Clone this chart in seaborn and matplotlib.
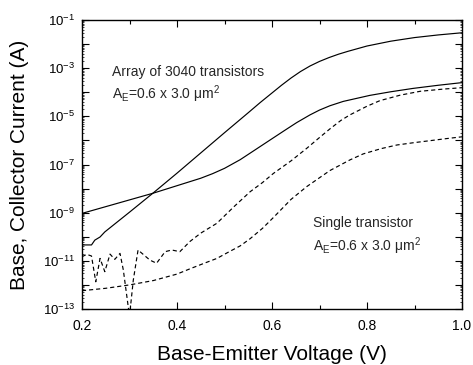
import numpy as np
import pandas as pd
import matplotlib
matplotlib.use("Agg")
import matplotlib.pyplot as plt
import matplotlib.ticker as mticker
import seaborn as sns

# Gummel plot: base & collector current vs base-emitter voltage
# currents stored as log10(I / A)

# array of 3040 transistors - collector current
vbe_ic_array = [0.20, 0.22, 0.227, 0.238, 0.248, 0.30, 0.35, 0.40, 0.45, 0.50, 0.55, 0.575,
                0.60, 0.62, 0.64, 0.66, 0.68, 0.70, 0.72, 0.74, 0.76, 0.80, 0.85, 0.90, 0.95, 1.00]
log_ic_array = [-10.34, -10.34, -10.14, -10.01, -9.80, -8.98, -8.18, -7.36, -6.52, -5.68, -4.85, -4.43,
                -4.03, -3.71, -3.41, -3.14, -2.91, -2.72, -2.56, -2.42, -2.30, -2.08, -1.88, -1.73, -1.62, -1.53]

# array of 3040 transistors - base current
vbe_ib_array = [0.20, 0.25, 0.30, 0.35, 0.40, 0.45, 0.475, 0.50, 0.533, 0.56, 0.60, 0.627, 0.652,
                0.68, 0.70, 0.722, 0.75, 0.806, 0.85, 0.897, 0.95, 1.00]
log_ib_array = [-9.03, -8.75, -8.47, -8.19, -7.88, -7.57, -7.38, -7.16, -6.80, -6.45, -5.93, -5.58, -5.26,
                -4.94, -4.74, -4.56, -4.38, -4.13, -3.98, -3.84, -3.71, -3.60]

# single transistor - collector current (noisy at low bias)
vbe_ic_single = [0.20, 0.21, 0.22, 0.229, 0.238, 0.248, 0.259, 0.269, 0.28, 0.287, 0.30, 0.308,
                 0.318, 0.343, 0.357, 0.375, 0.389, 0.406, 0.427, 0.45, 0.484, 0.52, 0.554, 0.58,
                 0.603, 0.64, 0.673, 0.70, 0.722, 0.745, 0.764, 0.80, 0.827, 0.87, 0.912, 0.96, 1.00]
log_ic_single = [-10.83, -10.73, -10.80, -11.87, -10.90, -11.45, -10.72, -10.94, -10.69, -11.38, -13.3, -11.80,
                 -10.55, -10.97, -11.10, -10.62, -10.55, -10.62, -10.20, -9.85, -9.44, -8.75, -8.13, -7.75,
                 -7.37, -6.85, -6.33, -5.88, -5.52, -5.17, -4.94, -4.58, -4.35, -4.12, -3.96, -3.87, -3.81]

# single transistor - base current
vbe_ib_single = [0.20, 0.25, 0.30, 0.35, 0.40, 0.43, 0.46, 0.484, 0.51, 0.533, 0.554, 0.58, 0.603,
                 0.64, 0.673, 0.70, 0.722, 0.764, 0.792, 0.83, 0.863, 0.90, 0.933, 0.965, 1.00]
log_ib_single = [-12.24, -12.14, -12.00, -11.82, -11.55, -11.31, -11.08, -10.90, -10.62, -10.38, -10.08, -9.65, -9.20,
                 -8.45, -7.92, -7.55, -7.25, -6.81, -6.56, -6.34, -6.19, -6.09, -6.01, -5.93, -5.85]

x_ticks = [0.2, 0.4, 0.6, 0.8, 1.0]

sns.set_theme(style="ticks")
plt.rcParams['font.family'] = ['Liberation Sans', 'DejaVu Sans']
plt.rcParams['mathtext.fontset'] = 'custom'
plt.rcParams['mathtext.rm'] = 'Liberation Sans'
plt.rcParams['mathtext.it'] = 'Liberation Sans:italic'
plt.rcParams['mathtext.bf'] = 'Liberation Sans:bold'

fig = plt.figure(figsize=(4.73, 3.65), dpi=100)
ax = fig.add_axes([82 / 473, 56 / 365, 380 / 473, 289 / 365])
ax.set_yscale('log')

curves = [
    (vbe_ic_array, log_ic_array, '-'),
    (vbe_ib_array, log_ib_array, '-'),
    (vbe_ic_single, log_ic_single, (0, (3.5, 2.5))),
    (vbe_ib_single, log_ib_single, (0, (3.5, 2.5))),
]
for vbe, log_i, ls in curves:
    df = pd.DataFrame({'vbe': vbe, 'current': 10.0 ** np.array(log_i)})
    sns.lineplot(data=df, x='vbe', y='current', ax=ax, color='black',
                 linewidth=0.85, linestyle=ls, estimator=None, sort=False)

ax.set_xlim(0.2, 1.0)
ax.set_ylim(1e-13, 1e-1)
ax.set_xticks(x_ticks)
ax.xaxis.set_major_formatter(mticker.FormatStrFormatter('%.1f'))
ax.xaxis.set_minor_locator(mticker.MultipleLocator(0.1))

ax.yaxis.set_major_locator(mticker.LogLocator(base=10, numticks=30))
ax.yaxis.set_minor_locator(mticker.LogLocator(base=10, subs=np.arange(2, 10), numticks=30))
ax.yaxis.set_minor_formatter(mticker.NullFormatter())


def odd_decades(val, pos):
    e = int(round(np.log10(val)))
    return r'$10^{%d}$' % e if e % 2 != 0 else ''


ax.yaxis.set_major_formatter(mticker.FuncFormatter(odd_decades))

for sp in ax.spines.values():
    sp.set_color('black')
    sp.set_linewidth(1.0)

ax.tick_params(which='both', direction='in', top=True, right=True, color='black')
ax.tick_params(axis='both', which='major', length=5, width=0.8, labelcolor='black')
ax.tick_params(axis='x', which='major', labelsize=10, pad=7)
ax.tick_params(axis='y', which='major', labelsize=9.5, pad=5)
ax.tick_params(axis='x', which='minor', length=3, width=0.8)
ax.tick_params(axis='y', which='minor', length=1.5, width=0.5)

ax.set_xlabel("Base-Emitter Voltage (V)", fontsize=15, color='black')
ax.set_ylabel("Base, Collector Current (A)", fontsize=15, color='black')
ax.xaxis.set_label_coords(0.5, -0.125)
ax.yaxis.set_label_coords(-0.14, 0.5)

ax.text(0.079, 0.807, "Array of 3040 transistors", transform=ax.transAxes,
        fontsize=10, va='baseline', ha='left')
ax.text(0.079, 0.727, r"A$_{\mathrm{E}}$=0.6 x 3.0 μm$^{2}$", transform=ax.transAxes,
        fontsize=10, va='baseline', ha='left')
ax.text(0.607, 0.285, "Single transistor", transform=ax.transAxes,
        fontsize=10, va='baseline', ha='left')
ax.text(0.607, 0.2007, r"A$_{\mathrm{E}}$=0.6 x 3.0 μm$^{2}$", transform=ax.transAxes,
        fontsize=10, va='baseline', ha='left')

ax.grid(False)
fig.savefig("out.png", dpi=100)
